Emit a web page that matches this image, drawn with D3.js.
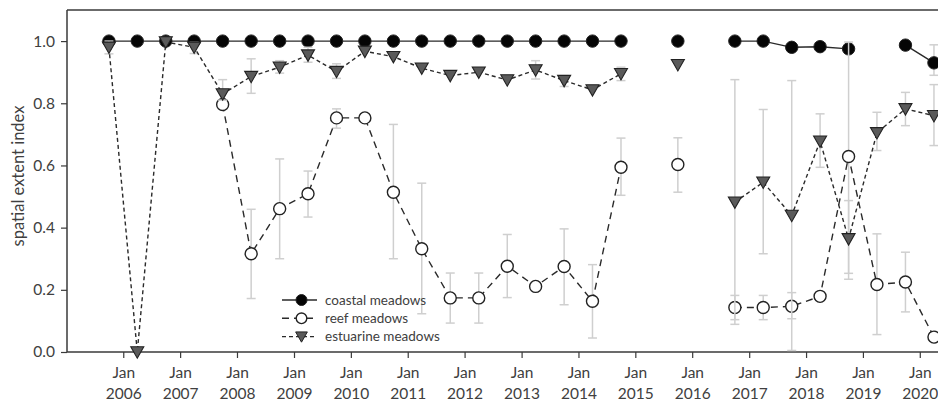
<!DOCTYPE html>
<html>
<head>
<meta charset="utf-8">
<script src="https://cdn.jsdelivr.net/npm/d3@7"></script>
<style>
  html, body { margin: 0; padding: 0; background: #fff; }
  svg { display: block; font-family: Lato, "Open Sans", sans-serif; }
</style>
</head>
<body>
<svg id="chart" width="938" height="402"></svg>
<script>
// ---- data ----
const dates = ["2005-10","2006-04","2006-10","2007-04","2007-10","2008-04","2008-10","2009-04","2009-10","2010-04",
  "2010-10","2011-04","2011-10","2012-04","2012-10","2013-04","2013-10","2014-04","2014-10","2015-04",
  "2015-10","2016-04","2016-10","2017-04","2017-10","2018-04","2018-10","2019-04","2019-10","2020-04"];

const coastal = [1.0,1.0,1.0,1.0,1.0,1.0,1.0,1.0,1.0,1.0,
  1.0,1.0,1.0,1.0,1.0,1.0,1.0,1.0,1.0,null,
  1.0,null,1.0,1.0,0.980,0.982,0.975,null,0.987,0.930];
const coastalErr = [null,null,null,null,null,null,null,null,null,null,
  null,null,null,null,null,null,null,null,null,null,
  null,null,null,null,null,null,null,null,null,[0.89,0.988]];

const reef = [null,null,null,null,0.796,0.316,0.461,0.509,0.753,0.753,
  0.514,0.332,0.174,0.174,0.276,0.211,0.275,0.163,0.594,null,
  0.603,null,0.143,0.143,0.147,0.179,0.629,0.217,0.225,0.048];
const reefErr = [null,null,null,null,null,[0.172,0.459],[0.300,0.621],[0.434,0.582],[0.72,0.782],null,
  [0.300,0.732],[0.123,0.543],[0.093,0.254],[0.093,0.254],[0.175,0.378],null,[0.152,0.396],[0.045,0.281],[0.504,0.688],null,
  [0.514,0.689],null,[0.104,0.182],[0.104,0.182],[0.107,0.191],null,[0.253,0.997],[0.056,0.380],[0.129,0.321],null];

const estuarine = [0.98,0.0,0.997,0.98,0.830,0.886,0.916,0.955,0.902,0.967,
  0.950,0.913,0.889,0.900,0.875,0.907,0.873,0.843,0.895,null,
  0.924,null,0.482,0.546,0.439,0.678,0.364,0.705,0.782,0.760];
const estuarineErr = [[0.959,1.0],null,null,[0.96,0.996],[0.81,0.876],[0.832,0.943],[0.897,0.937],[0.932,0.98],[0.880,0.927],null,
  null,null,null,null,null,[0.878,0.937],[0.854,0.889],null,[0.873,0.916],null,
  null,null,[0.089,0.876],[0.316,0.780],[0.005,0.873],[0.594,0.766],[0.234,0.487],[0.648,0.771],[0.728,0.835],[0.664,0.860]];

const seriesNames = ["coastal meadows","reef meadows","estuarine meadows"];
const yTicks = [0.0,0.2,0.4,0.6,0.8,1.0];
const xTickYears = [2006,2007,2008,2009,2010,2011,2012,2013,2014,2015,2016,2017,2018,2019,2020];
const yLabel = "spatial extent index";

// ---- layout ----
const svg = d3.select("#chart");
const mLeft = 67, mTop = 10, mBottom = 352, mRight = 938;
const parse = d3.timeParse("%Y-%m");

const x = d3.scaleTime()
  .domain([new Date(2005,0,1), new Date(2021,0,1)])
  .range([66.4, 66.4 + 16*56.9]);
const y = d3.scaleLinear().domain([0, 1.1]).range([mBottom, mTop]);

const axisColor = "#3a3a3a";
const textColor = "#404040";

// frame (top)
svg.append("line").attr("x1", mLeft).attr("x2", mRight).attr("y1", mTop).attr("y2", mTop)
  .attr("stroke", axisColor).attr("stroke-width", 1.5);

// y axis
const yAxis = svg.append("g").attr("transform", `translate(${mLeft},0)`)
  .call(d3.axisLeft(y).tickValues(yTicks).tickFormat(d3.format(".1f")).tickSize(6).tickPadding(6));
yAxis.select(".domain").attr("d", `M0,${mTop}V${mBottom}`);

// x axis
const xAxis = svg.append("g").attr("transform", `translate(0,${mBottom})`)
  .call(d3.axisBottom(x).tickValues(xTickYears.map(yr => new Date(yr,0,1))).tickFormat(() => "").tickSize(6));
xAxis.select(".domain").attr("d", `M${mLeft},0H${mRight}`);

[yAxis, xAxis].forEach(gg => {
  gg.select(".domain").attr("stroke", axisColor).attr("stroke-width", 1.5);
  gg.selectAll(".tick line").attr("stroke", axisColor).attr("stroke-width", 1.2);
  gg.selectAll(".tick text").attr("fill", textColor).attr("font-size", 15.5).attr("font-family", "Lato, sans-serif");
});

// x tick labels, two lines
xAxis.selectAll(".tick").each(function(d) {
  const t = d3.select(this).select("text");
  t.text(null).attr("y", 0).attr("dy", null);
  t.append("tspan").attr("x", 0).attr("y", 26).text("Jan");
  t.append("tspan").attr("x", 0).attr("y", 47).text(d3.timeFormat("%Y")(d));
});

// y label
svg.append("text")
  .attr("transform", `translate(24,${(mTop+mBottom)/2 - 5}) rotate(-90)`)
  .attr("text-anchor", "middle")
  .attr("fill", textColor).attr("font-size", 16.5)
  .text(yLabel);

// ---- series ----
const g = svg.append("g");
const triangle = "M-6.5,-5.2L6.5,-5.2L0,6.2Z";

function drawSeries(vals, errs, dash, marker) {
  const pts = dates.map((d,i) => ({date: parse(d), v: vals[i], e: errs[i]}));
  const eb = g.append("g");
  pts.filter(p => p.e && p.v !== null).forEach(p => {
    const cx = x(p.date);
    eb.append("line").attr("x1", cx).attr("x2", cx).attr("y1", y(p.e[0])).attr("y2", y(p.e[1]))
      .attr("stroke", "#cfcfcf").attr("stroke-width", 1.5);
    p.e.forEach(v => eb.append("line").attr("x1", cx-4.5).attr("x2", cx+4.5).attr("y1", y(v)).attr("y2", y(v))
      .attr("stroke", "#cfcfcf").attr("stroke-width", 1.5));
  });
  const line = d3.line().defined(p => p.v !== null).x(p => x(p.date)).y(p => y(p.v));
  g.append("path").datum(pts).attr("d", line).attr("fill", "none")
    .attr("stroke", "#2a2a2a").attr("stroke-width", 1.4)
    .attr("stroke-dasharray", dash);
  const m = g.append("g");
  pts.filter(p => p.v !== null).forEach(p => marker(m, x(p.date), y(p.v)));
}

function blackCircle(sel, cx, cy, r=6.2) {
  sel.append("circle").attr("cx", cx).attr("cy", cy).attr("r", r).attr("fill", "#050505").attr("stroke", "#222").attr("stroke-width", 1);
}
function whiteCircle(sel, cx, cy, r=6) {
  sel.append("circle").attr("cx", cx).attr("cy", cy).attr("r", r).attr("fill", "#fff").attr("stroke", "#222").attr("stroke-width", 1.4);
}
function tri(sel, cx, cy, s=1) {
  sel.append("path").attr("d", triangle).attr("transform", `translate(${cx},${cy}) scale(${s})`)
    .attr("fill", "#5a5a5a").attr("stroke", "#222").attr("stroke-width", 1.1);
}

drawSeries(coastal, coastalErr, null, blackCircle);
drawSeries(reef, reefErr, "7,5", whiteCircle);
drawSeries(estuarine, estuarineErr, "4,3", tri);

// ---- legend ----
const legend = svg.append("g").attr("transform", "translate(282,300)");
const legDash = [null, "7,5", "4,3"];
const legMarkers = [(s,cx,cy)=>blackCircle(s,cx,cy,5.5), (s,cx,cy)=>whiteCircle(s,cx,cy,5.3), (s,cx,cy)=>tri(s,cx,cy,0.9)];
seriesNames.forEach((name, i) => {
  const row = legend.append("g").attr("transform", `translate(0,${i*18.3})`);
  row.append("line").attr("x1", 0).attr("x2", 35).attr("y1", 0).attr("y2", 0)
    .attr("stroke", "#2a2a2a").attr("stroke-width", 1.4).attr("stroke-dasharray", legDash[i]);
  legMarkers[i](row, 19.5, 0);
  row.append("text").attr("x", 43).attr("y", 0).attr("dy", "0.35em")
    .attr("fill", textColor).attr("font-size", 13.5).text(name);
});
</script>
</body>
</html>
